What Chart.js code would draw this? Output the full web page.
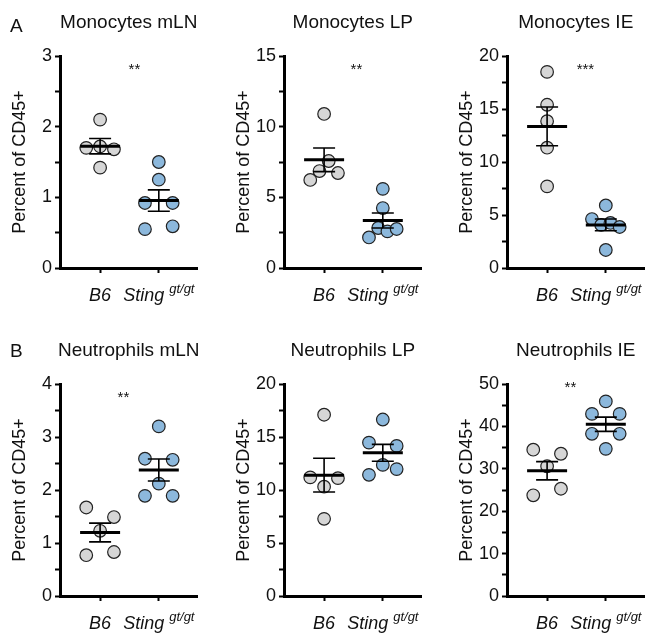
<!DOCTYPE html>
<html>
<head>
<meta charset="utf-8">
<script src="https://cdn.jsdelivr.net/npm/chart.js@4.4.1/dist/chart.umd.min.js"></script>
<style>
    html, body { margin: 0; padding: 0; background: #fff; overflow: hidden; }
    body { position: relative; width: 650px; height: 635px; }
    canvas { position: absolute; }
</style>
</head>
<body>
<canvas id="p0" width="205" height="310" style="left:0px;top:0px"></canvas>
<canvas id="p1" width="205" height="310" style="left:224px;top:0px"></canvas>
<canvas id="p2" width="205" height="310" style="left:447px;top:0px"></canvas>
<canvas id="p3" width="205" height="307" style="left:0px;top:328px"></canvas>
<canvas id="p4" width="205" height="307" style="left:224px;top:328px"></canvas>
<canvas id="p5" width="205" height="307" style="left:447px;top:328px"></canvas>
<script>
// groups on the x axis
const groups = ['B6', 'Sting'];
const groupSup = ['', 'gt/gt'];

// panel titles, significance marks, axis max and tick steps
const titles = ['Monocytes mLN', 'Monocytes LP', 'Monocytes IE', 'Neutrophils mLN', 'Neutrophils LP', 'Neutrophils IE'];
const stars = ['**', '**', '***', '**', '', '**'];
const yMax = [3, 15, 20, 4, 20, 50];
const majorStep = [1, 5, 5, 1, 5, 10];
const minorStep = [0.5, 2.5, 2.5, 0.5, 2.5, 5];

// percent of CD45+ per mouse
const monoMlnB6 = [2.1, 1.7, 1.72, 1.68, 1.42];
const monoMlnSting = [1.5, 1.25, 0.92, 0.92, 0.55, 0.59];
const monoLpB6 = [10.9, 6.23, 6.86, 7.57, 6.72];
const monoLpSting = [5.6, 4.24, 2.16, 2.83, 2.59, 2.76];
const monoIeB6 = [18.5, 15.4, 13.85, 11.35, 7.7];
const monoIeSting = [5.9, 4.62, 4.06, 4.25, 3.87, 1.7];
const neutMlnB6 = [1.67, 1.49, 1.23, 0.77, 0.83];
const neutMlnSting = [3.2, 2.59, 2.57, 2.12, 1.89, 1.89];
const neutLpB6 = [17.1, 11.19, 10.31, 11.12, 7.28];
const neutLpSting = [16.65, 14.47, 14.16, 11.43, 12.37, 11.97];
const neutIeB6 = [34.5, 33.55, 30.6, 23.75, 25.3];
const neutIeSting = [45.9, 42.95, 42.95, 38.25, 38.25, 34.7];

const panelData = [
    [monoMlnB6, monoMlnSting],
    [monoLpB6, monoLpSting],
    [monoIeB6, monoIeSting],
    [neutMlnB6, neutMlnSting],
    [neutLpB6, neutLpSting],
    [neutIeB6, neutIeSting]
];

// layout
const FONT = '"Liberation Sans", Arial, sans-serif';
const AXIS_W = 60, PLOT_W = 144, PLOT_TOP = 56, PLOT_H = 212;
const X_MIN = 0.317, X_MAX = 2.659;
const starShift = [[5, 9], [3, 9], [9, 9], [-6, 9], [0, 0], [-6, -1]];
const letters = ['A', '', '', 'B', '', ''];
const fills = ['#d6d6d6', '#8cb8dc'];

function mean(a) {
    return a.reduce((s, v) => s + v, 0) / a.length;
}

function sem(a) {
    const m = mean(a);
    const v = a.reduce((s, x) => s + (x - m) * (x - m), 0) / (a.length - 1);
    return Math.sqrt(v / a.length);
}

// spread points that sit at about the same height side by side (px offsets)
function swarm(values, pxPerY) {
    const spacing = 14.5, rowGap = 11;
    const order = values.map((v, i) => i).sort((a, b) => values[b] - values[a]);
    const rows = [];
    let cur = [order[0]];
    for (let k = 1; k < order.length; k++) {
        const prev = cur[cur.length - 1];
        if ((values[prev] - values[order[k]]) * pxPerY < rowGap) {
            cur.push(order[k]);
        } else {
            rows.push(cur);
            cur = [order[k]];
        }
    }
    rows.push(cur);
    const off = values.map(() => 0);
    rows.forEach(r => {
        r.sort((a, b) => a - b);
        const n = r.length;
        if (n > 1) r.forEach((idx, j) => { off[idx] = -spacing + j * 2 * spacing / (n - 1); });
    });
    return off;
}

const panelDecor = {
    id: 'panelDecor',
    afterDatasetsDraw(chart, args, opts) {
        const { ctx, scales: { x, y } } = chart;
        ctx.save();
        ctx.strokeStyle = '#000';
        opts.groups.forEach((vals, gi) => {
            const m = mean(vals), s = sem(vals);
            const cx = x.getPixelForValue(gi + 1);
            const ym = y.getPixelForValue(m);
            const yt = y.getPixelForValue(m + s);
            const yb = y.getPixelForValue(m - s);
            ctx.lineWidth = 1.6;
            ctx.beginPath();
            ctx.moveTo(cx, yt); ctx.lineTo(cx, yb);
            ctx.moveTo(cx - 11, yt); ctx.lineTo(cx + 11, yt);
            ctx.moveTo(cx - 11, yb); ctx.lineTo(cx + 11, yb);
            ctx.stroke();
            ctx.lineWidth = 3;
            ctx.beginPath();
            ctx.moveTo(cx - 20, ym); ctx.lineTo(cx + 20, ym);
            ctx.stroke();
        });
        ctx.restore();
    },
    afterDraw(chart, args, opts) {
        const { ctx, chartArea, scales: { x } } = chart;
        ctx.save();
        ctx.fillStyle = '#111';
        ctx.textBaseline = 'alphabetic';

        // title
        ctx.font = '19px ' + FONT;
        ctx.textAlign = 'center';
        ctx.fillText(opts.title, (chartArea.left + chartArea.right) / 2, 28);

        if (opts.letter) {
            ctx.textAlign = 'left';
            ctx.fillText(opts.letter, 10, opts.letter === 'A' ? 32 : 29);
        }

        // group labels
        const base = chartArea.bottom + 33;
        groups.forEach((g, i) => {
            const cx = x.getPixelForValue(i + 1);
            ctx.font = 'italic 18px ' + FONT;
            const w = ctx.measureText(g).width;
            let wSup = 0;
            if (groupSup[i]) {
                ctx.font = 'italic 13px ' + FONT;
                wSup = ctx.measureText(groupSup[i]).width + 5;
            }
            const start = cx - (w + wSup) / 2;
            ctx.textAlign = 'left';
            ctx.font = 'italic 18px ' + FONT;
            ctx.fillText(g, start, base);
            if (groupSup[i]) {
                ctx.font = 'italic 13px ' + FONT;
                ctx.fillText(groupSup[i], start + w + 5, base - 8);
            }
        });

        // significance
        if (opts.star) {
            ctx.font = '15px ' + FONT;
            ctx.textAlign = 'center';
            const sx = x.getPixelForValue(1.5) + opts.shift[0];
            const sy = chartArea.top + opts.shift[1];
            ctx.fillText(opts.star, sx, sy + 15 * 0.58);
        }
        ctx.restore();
    }
};

function makePanel(i) {
    const pxPerY = PLOT_H / yMax[i];
    const pxPerX = PLOT_W / (X_MAX - X_MIN);
    const datasets = panelData[i].map((vals, gi) => {
        const off = swarm(vals, pxPerY);
        return {
            label: groups[gi],
            data: vals.map((v, k) => ({ x: gi + 1 + off[k] / pxPerX, y: v })),
            backgroundColor: fills[gi],
            borderColor: '#222',
            borderWidth: 1.2,
            pointRadius: 6.3,
            clip: false
        };
    });

    const gridOpts = {
        drawOnChartArea: false,
        drawTicks: true,
        tickLength: 5,
        tickWidth: 2,
        tickColor: '#000',
        color: '#000'
    };

    new Chart(document.getElementById('p' + i), {
        type: 'scatter',
        data: { datasets: datasets },
        options: {
            responsive: false,
            animation: false,
            devicePixelRatio: 1,
            layout: { padding: { top: PLOT_TOP, right: 1, left: 0, bottom: 0 } },
            plugins: {
                legend: { display: false },
                tooltip: { enabled: false },
                panelDecor: {
                    groups: panelData[i],
                    title: titles[i],
                    star: stars[i],
                    shift: starShift[i],
                    letter: letters[i]
                }
            },
            scales: {
                x: {
                    type: 'linear',
                    min: X_MIN,
                    max: X_MAX,
                    afterBuildTicks: axis => { axis.ticks = [{ value: 1 }, { value: 2 }]; },
                    afterFit: s => { s.height = 307 - PLOT_TOP - PLOT_H + (i < 3 ? 3 : 0); },
                    ticks: { callback: () => '' },
                    grid: gridOpts,
                    border: { color: '#000', width: 3 }
                },
                y: {
                    min: 0,
                    max: yMax[i],
                    afterFit: s => { s.width = AXIS_W; },
                    ticks: {
                        stepSize: minorStep[i],
                        autoSkip: false,
                        padding: 3,
                        color: '#111',
                        font: { family: FONT, size: 18 },
                        callback: v => (Math.abs(v % majorStep[i]) < 1e-6 ? String(v) : '')
                    },
                    title: {
                        display: true,
                        text: 'Percent of CD45+',
                        color: '#111',
                        font: { family: FONT, size: 18 },
                        padding: { top: 9, bottom: 0 }
                    },
                    grid: gridOpts,
                    border: { color: '#000', width: 3 }
                }
            }
        },
        plugins: [panelDecor]
    });
}

for (let i = 0; i < 6; i++) {
    makePanel(i);
}
</script>
</body>
</html>
